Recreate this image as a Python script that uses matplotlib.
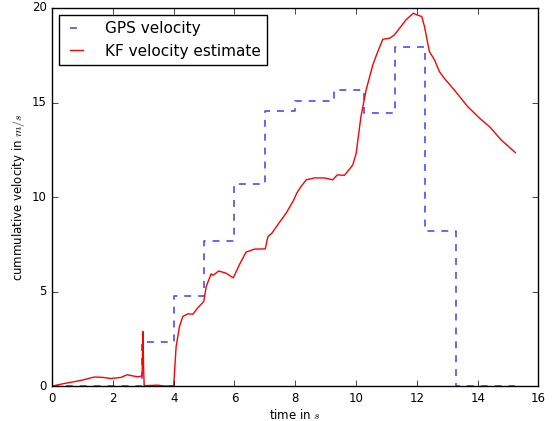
import matplotlib
matplotlib.use('Agg')
from matplotlib import pyplot as plt

plt.style.use('classic')

# GPS velocity, step-wise (value holds until next time)
gps_t = [0.0, 2.95, 4.0, 5.0, 6.0, 7.0, 8.0, 9.27, 10.27, 11.28, 12.28, 13.28, 15.24]
gps_v = [0.0, 2.36, 4.77, 7.70, 10.71, 14.54, 15.07, 15.67, 14.44, 17.93, 8.21, 0.0, 0.0]

# KF velocity estimate
kf_t = [0.0, 0.41, 0.95, 1.39, 1.67, 1.94, 2.27, 2.47, 2.65, 2.82, 2.96, 2.99, 3.01,
	3.03, 3.48, 3.7, 4.0, 4.08, 4.19, 4.3, 4.47, 4.63, 4.8, 4.99, 5.07, 5.23, 5.3,
	5.48, 5.72, 5.96, 6.16, 6.38, 6.66, 7.01, 7.1, 7.23, 7.42, 7.7, 7.95, 8.05, 8.19,
	8.36, 8.63, 8.85, 8.96, 9.23, 9.38, 9.62, 9.89, 10.0, 10.16, 10.33, 10.55, 10.69,
	10.88, 11.1, 11.26, 11.43, 11.64, 11.88, 12.0, 12.16, 12.25, 12.41, 12.58, 12.74,
	12.9, 13.23, 13.67, 14.06, 14.39, 14.77, 15.24]
kf_v = [0.02, 0.16, 0.32, 0.5, 0.48, 0.42, 0.48, 0.62, 0.56, 0.51, 0.56, 2.9, 1.0,
	0.04, 0.07, 0.02, 0.04, 2.1, 3.17, 3.7, 3.84, 3.82, 4.17, 4.49, 5.28, 5.95, 5.88,
	6.1, 5.99, 5.74, 6.43, 7.1, 7.26, 7.27, 7.92, 8.1, 8.54, 9.16, 9.86, 10.22, 10.57,
	10.92, 11.02, 11.02, 11.02, 10.92, 11.18, 11.16, 11.7, 12.3, 14.26, 15.67, 16.99, 17.6,
	18.35, 18.4, 18.58, 18.93, 19.37, 19.72, 19.64, 19.55, 19.02, 17.7, 17.26, 16.64,
	16.29, 15.67, 14.79, 14.18, 13.73, 13.03, 12.36]

fig, ax = plt.subplots(figsize=(5.54, 4.21), dpi=100, facecolor='white')
fig.subplots_adjust(left=0.094, right=0.972, top=0.981, bottom=0.082)

ax.step(gps_t, gps_v, where='post', color='blue', linestyle='--', dashes=(5, 5),
	alpha=0.7, linewidth=1.2, label='GPS velocity')
ax.plot(kf_t, kf_v, color='red', linewidth=1.0, label='KF velocity estimate')

ax.set_xlim(0, 16)
ax.set_ylim(0, 20)
ax.set_xticks(range(0, 17, 2))
ax.set_yticks(range(0, 21, 5))
ax.tick_params(labelsize=8.5, pad=4)
ax.set_xlabel('time in $s$', fontsize=8.5, labelpad=2)
ax.set_ylabel('cummulative velocity in $m/s$', fontsize=8.5, labelpad=3)
ax.legend(loc='upper left', fontsize=11, handlelength=1.5, handletextpad=1.1,
	borderaxespad=0.45)

fig.savefig('out.png', dpi=100, facecolor='white')
